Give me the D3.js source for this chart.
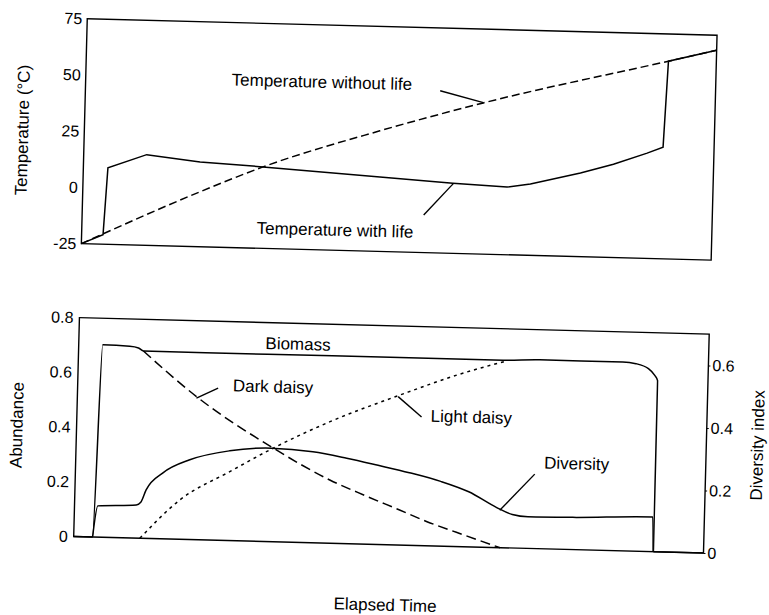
<!DOCTYPE html>
<html lang="en">
  <head>
    <meta charset="utf-8">
    <title>Daisyworld</title>
    <script src="https://cdn.jsdelivr.net/npm/d3@7"></script>
    <style>
      body { margin: 0; background: #fff; }
      text { font-family: "Liberation Sans", Arial, sans-serif; fill: #000; }
    </style>
  </head>
  <body>
    <svg width="769" height="615" id="mainsvg"></svg>
    <script>
      // top panel: temperature
      const timeNoLife = [0, 18.6, 28.5, 46.9, 63.2, 92.4, 100];
      const tempNoLife = [-25, -0.6, 11.2, 28.6, 42.2, 62.9, 68.3];
      const timeLife = [0, 3.4, 3.9, 10.0, 18.5, 28.5, 47.1, 58.7, 67.3, 71.0, 78.9, 84.1, 89.4, 91.9, 92.4, 100];
      const tempLife = [-25, -20.8, 9.0, 15.3, 12.7, 11.2, 8.1, 6.2, 5.1, 6.7, 12.2, 16.5, 21.8, 24.6, 62.9, 68.3];
      const tempTicks = [-25, 0, 25, 50, 75];

      // bottom panel: abundance + diversity
      const timeBio = [0, 3.0, 3.8, 8.1, 9.5, 10.3, 30, 51, 67.4, 73.2, 86.4, 88.5, 90.5, 91.5, 92, 92.05, 100];
      const biomass = [0, 0, 0.703, 0.70, 0.695, 0.684, 0.684, 0.685, 0.685, 0.69, 0.69, 0.685, 0.668, 0.645, 0.625, 0, 0];
      const timeDark = [10.3, 18.9, 31.3, 40.4, 46.0, 51.6, 56.0, 60.7, 67.7];
      const darkDaisy = [0.684, 0.523, 0.342, 0.231, 0.178, 0.128, 0.088, 0.052, 0];
      const timeLight = [10.5, 16.7, 24.5, 31.3, 40.2, 51.2, 60.1, 68.0];
      const lightDaisy = [0, 0.144, 0.252, 0.342, 0.444, 0.548, 0.626, 0.683];
      const timeDiv = [3.0, 3.7, 9.8, 10.5, 11.3, 13.9, 18.1, 24.4, 31.0, 37.6, 43.0, 48.0, 53.0, 58.0, 62.5, 67.0, 69.5, 72.0, 79.1, 91.8, 92];
      const diversity = [0, 0.10, 0.106, 0.115, 0.155, 0.211, 0.255, 0.287, 0.299, 0.291, 0.273, 0.253, 0.232, 0.207, 0.176, 0.128, 0.107, 0.101, 0.103, 0.111, 0];
      const abundTicks = [0, 0.2, 0.4, 0.6, 0.8];
      const divTicks = [0, 0.2, 0.4, 0.6];

      // annotations (data units): label position, then leader line ends
      const topNotes = [
        { text: 'Temperature without life', t: 37.5, v: 49.7, line: [[56.3, 47.1], [63.2, 42.3]] },
        { text: 'Temperature with life', t: 40.2, v: -15.9, line: [[54.2, -8.3], [58.8, 6.1]] }
      ];
      const botNotes = [
        { text: 'Biomass', t: 34.8, v: 0.725, line: null },
        { text: 'Dark daisy', t: 31.0, v: 0.567, line: [[22.3, 0.556], [18.9, 0.517]] },
        { text: 'Light daisy', t: 62.6, v: 0.475, line: [[54.7, 0.470], [50.9, 0.542]] },
        { text: 'Diversity', t: 79.5, v: 0.315, line: [[72.9, 0.272], [67.5, 0.137]] }
      ];

      const svg = d3.select('#mainsvg');
      // the scanned figure sits slightly tilted
      const g = svg.append('g').attr('transform', 'rotate(1.5, 400, 300)');

      const x = d3.scaleLinear().domain([0, 100]).range([80, 710]);
      const yTop = d3.scaleLinear().domain([-25, 75]).range([252, 27]);
      const yBot = d3.scaleLinear().domain([0, 0.8]).range([545, 326]);
      const yDiv = d3.scaleLinear().domain([0, 0.7]).range([545, 326]);

      function frame(y) {
        g.append('rect')
          .attr('x', x(0)).attr('y', y.range()[1])
          .attr('width', x(100) - x(0)).attr('height', y.range()[0] - y.range()[1])
          .attr('fill', 'none').attr('stroke', '#000').attr('stroke-width', 1.4);
      }
      frame(yTop);
      frame(yBot);

      function drawLine(ts, vs, y, dash, curve) {
        const line = d3.line().x(d => x(d[0])).y(d => y(d[1])).curve(curve || d3.curveLinear);
        g.append('path')
          .attr('d', line(ts.map((t, i) => [t, vs[i]])))
          .attr('fill', 'none').attr('stroke', '#000').attr('stroke-width', 1.5)
          .attr('stroke-dasharray', dash);
      }

      drawLine(timeNoLife, tempNoLife, yTop, '8,4', d3.curveMonotoneX);
      drawLine(timeLife, tempLife, yTop, null);

      drawLine(timeBio, biomass, yBot, null, d3.curveMonotoneX);
      drawLine(timeDark, darkDaisy, yBot, '10,5', d3.curveMonotoneX);
      drawLine(timeLight, lightDaisy, yBot, '3,4', d3.curveMonotoneX);
      drawLine(timeDiv, diversity, yDiv, null, d3.curveMonotoneX);

      // axes
      function axis(gen, tx) {
        const a = g.append('g').attr('transform', `translate(${tx},0)`).call(gen);
        a.select('.domain').remove();
        a.selectAll('.tick text').attr('font-size', '16px')
          .attr('font-family', '"Liberation Sans", Arial, sans-serif');
      }
      axis(d3.axisLeft(yTop).tickValues(tempTicks).tickSize(0).tickPadding(5).tickFormat(d => String(d)), x(0));
      axis(d3.axisLeft(yBot).tickValues(abundTicks).tickSize(0).tickPadding(6).tickFormat(d => String(d)), x(0));
      axis(d3.axisRight(yDiv).tickValues(divTicks).tickSize(2).tickPadding(2).tickFormat(d => String(d)), x(100));

      // axis titles
      function vTitle(text, cx, cy) {
        g.append('text').text(text)
          .attr('transform', `translate(${cx},${cy}) rotate(-90)`)
          .attr('text-anchor', 'middle').attr('dy', '0.35em')
          .attr('font-size', '17px');
      }
      vTitle('Temperature (°C)', 18, 140);
      vTitle('Abundance', 20, 435);
      vTitle('Diversity index', 761, 436);

      g.append('text').text('Elapsed Time')
        .attr('x', (x(0) + x(100)) / 2 - 2).attr('y', 605)
        .attr('text-anchor', 'middle').attr('dy', '0.35em')
        .attr('font-size', '17px');

      // labels and leader lines
      function notes(list, y) {
        list.forEach(n => {
          g.append('text').text(n.text)
            .attr('x', x(n.t)).attr('y', y(n.v))
            .attr('text-anchor', 'middle').attr('dy', '0.35em')
            .attr('font-size', '17px');
          if (n.line) {
            g.append('line')
              .attr('x1', x(n.line[0][0])).attr('y1', y(n.line[0][1]))
              .attr('x2', x(n.line[1][0])).attr('y2', y(n.line[1][1]))
              .attr('stroke', '#000').attr('stroke-width', 1.4);
          }
        });
      }
      notes(topNotes, yTop);
      notes(botNotes, yBot);
    </script>
  </body>
</html>
